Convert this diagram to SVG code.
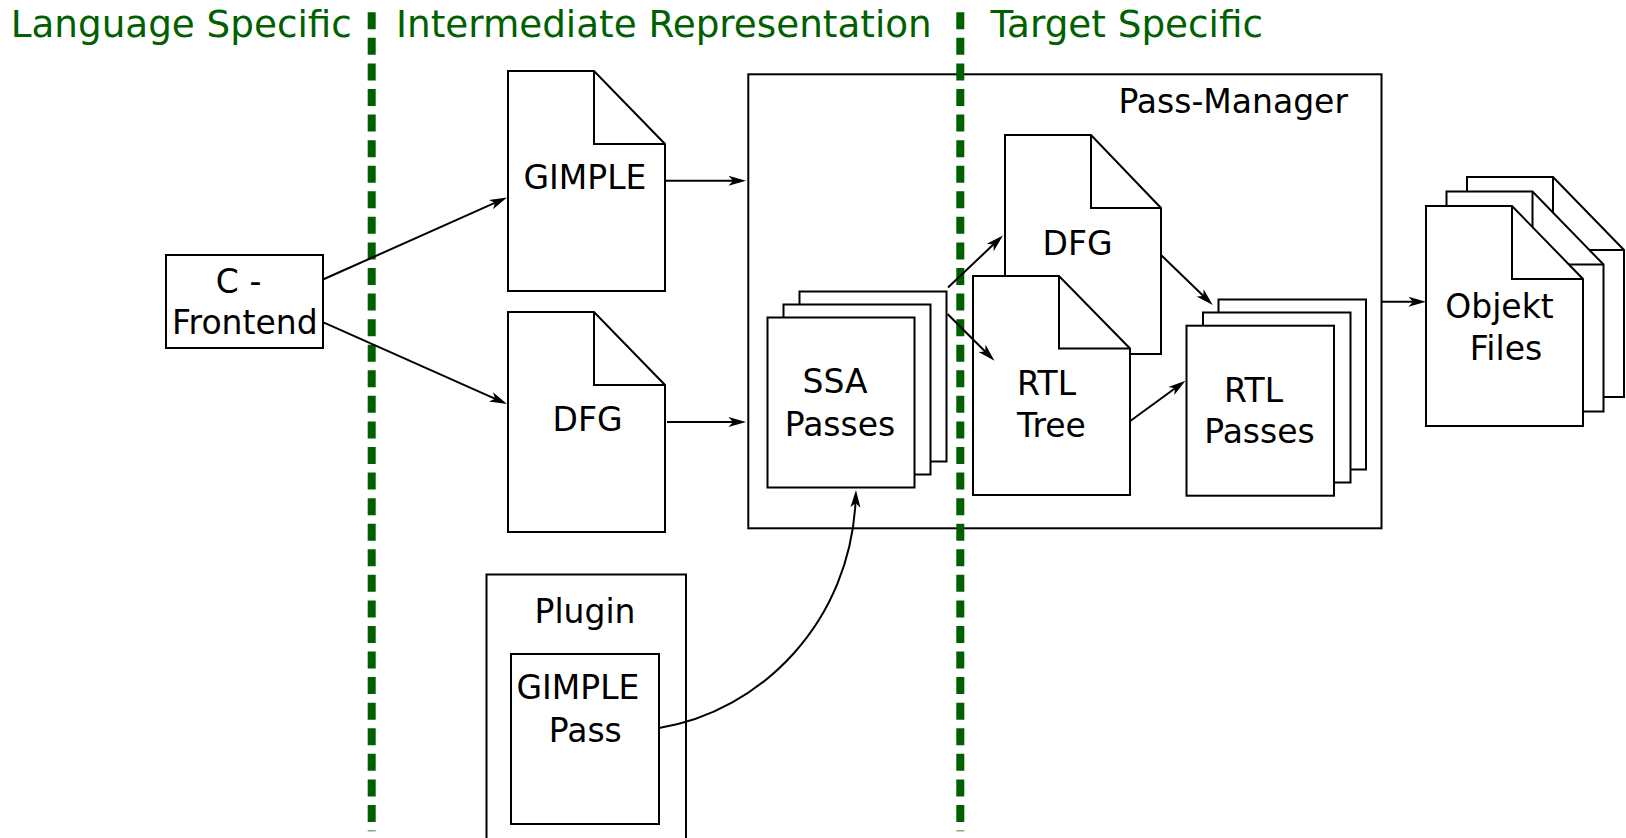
<svg xmlns="http://www.w3.org/2000/svg" width="1626" height="838" viewBox="0 0 1626 838">
  <defs>
    <style>
      .lbl { font-family: "DejaVu Sans", "Liberation Sans", sans-serif; font-size: 33px; fill: #000; }
      .mid { text-anchor: middle; }
      .zone { font-family: "DejaVu Sans", "Liberation Sans", sans-serif; font-size: 37.3px; fill: #006000; }
      .box { fill: #fff; stroke: #000; stroke-width: 2; }
      .frame { fill: none; stroke: #000; stroke-width: 2; }
      .edge { fill: none; stroke: #000; stroke-width: 2; marker-end: url(#arrow); }
      .divider { stroke: #006000; stroke-width: 8; stroke-dasharray: 17 8.57; }
    </style>
    <marker id="arrow" markerUnits="userSpaceOnUse" viewBox="-13 -6 20 12" refX="0" refY="0" markerWidth="20" markerHeight="12" orient="auto">
      <path d="M6,0 L-11.5,-5 L-7,0 L-11.5,5 Z" fill="#000"/>
    </marker>
    <!-- document sheet with a folded corner, 157 x 220 -->
    <g id="sheet">
      <path d="M0,0 H86 L157,73 V220 H0 Z" class="box"/>
      <path d="M86,0 V73 H157" class="frame"/>
    </g>
  </defs>

  <!-- section headings -->
  <g id="headings">
    <text class="zone" x="10.7" y="37">Language Specific</text>
    <text class="zone" x="396" y="37">Intermediate Representation</text>
    <text class="zone" x="990.5" y="37">Target Specific</text>
  </g>

  <g id="c-frontend">
    <rect class="box" x="166" y="255" width="157" height="93"/>
    <text class="lbl mid" x="238.6" y="293.3">C -</text>
    <text class="lbl mid" x="244.8" y="334.3">Frontend</text>
  </g>

  <g id="gimple">
    <use href="#sheet" x="508" y="71"/>
    <text class="lbl mid" x="585" y="189">GIMPLE</text>
  </g>

  <g id="dfg-ir">
    <use href="#sheet" x="508" y="312"/>
    <text class="lbl mid" x="587.5" y="431">DFG</text>
  </g>

  <g id="pass-manager">
    <rect class="frame" x="748.3" y="74.3" width="633.2" height="454"/>
    <text class="lbl" x="1348" y="112.7" text-anchor="end">Pass-Manager</text>
  </g>

  <g id="ssa-passes">
    <rect class="box" x="799.5" y="291.5" width="147" height="170"/>
    <rect class="box" x="783.5" y="304.5" width="147" height="170"/>
    <rect class="box" x="767.5" y="317.5" width="147" height="170"/>
    <text class="lbl mid" x="835" y="393">SSA</text>
    <text class="lbl mid" x="840" y="435.7">Passes</text>
  </g>

  <g id="dfg-target">
    <path d="M1005,135 H1091 L1161,208 V354 H1005 Z" class="box"/>
    <path d="M1091,135 V208 H1161" class="frame"/>
    <text class="lbl mid" x="1077.5" y="255">DFG</text>
  </g>

  <g id="rtl-tree">
    <path d="M973,276 H1059 L1130,348.5 V495 H973 Z" class="box"/>
    <path d="M1059,276 V348.5 H1130" class="frame"/>
    <text class="lbl mid" x="1046.5" y="395">RTL</text>
    <text class="lbl mid" x="1051.5" y="436.7">Tree</text>
  </g>

  <g id="rtl-passes">
    <rect class="box" x="1218.5" y="299.5" width="147.5" height="170"/>
    <rect class="box" x="1203" y="312.5" width="147.5" height="170"/>
    <rect class="box" x="1186.5" y="325.7" width="147.5" height="170"/>
    <text class="lbl mid" x="1253.5" y="401.7">RTL</text>
    <text class="lbl mid" x="1259.5" y="442.7">Passes</text>
  </g>

  <g id="object-files">
    <use href="#sheet" x="1467" y="177"/>
    <use href="#sheet" x="1446.5" y="191.5"/>
    <use href="#sheet" x="1426" y="206"/>
    <text class="lbl mid" x="1499.5" y="318.3">Objekt</text>
    <text class="lbl mid" x="1506" y="360">Files</text>
  </g>

  <g id="plugin">
    <rect class="frame" x="486.5" y="574.5" width="199.5" height="280"/>
    <text class="lbl mid" x="585" y="623.3">Plugin</text>
  </g>

  <g id="gimple-pass">
    <rect class="box" x="511" y="654" width="148" height="170"/>
    <text class="lbl mid" x="578" y="699.3">GIMPLE</text>
    <text class="lbl mid" x="585.3" y="741.7">Pass</text>
  </g>

  <!-- stage boundaries -->
  <g id="dividers">
    <line class="divider" x1="371.7" y1="12.3" x2="371.7" y2="831.3"/>
    <line class="divider" x1="960.3" y1="12.3" x2="960.3" y2="831.3"/>
  </g>

  <g id="connectors">
    <path class="edge" d="M323,279.5 L501.5,199.9"/>
    <path class="edge" d="M324,322.7 L501.5,401.6"/>
    <path class="edge" d="M665,180.7 L740,180.7"/>
    <path class="edge" d="M667,422 L740,422"/>
    <path class="edge" d="M948,287.5 L998.6,239.6"/>
    <path class="edge" d="M947.5,314 L990.2,356.5"/>
    <path class="edge" d="M1161,255 L1208.4,300.8"/>
    <path class="edge" d="M1130.6,420.7 L1180.6,384.2"/>
    <path class="edge" d="M1381,301.7 L1420,301.7"/>
    <path class="edge" d="M659,728 C760,712 852,622 855.8,496"/>
  </g>
</svg>
